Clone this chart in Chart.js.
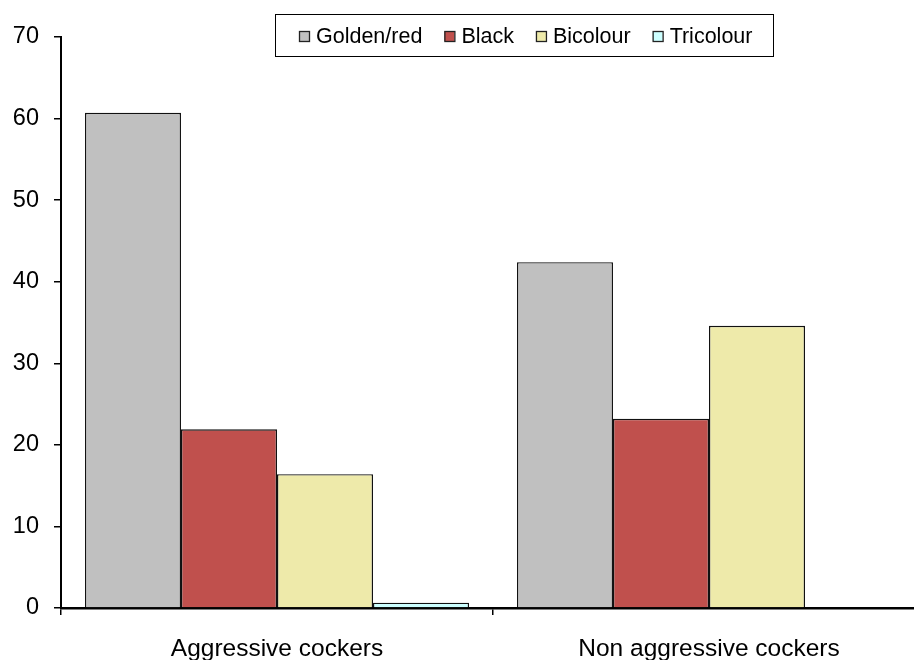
<!DOCTYPE html>
<html>
<head>
<meta charset="utf-8">
<script src="https://cdn.jsdelivr.net/npm/chart.js@4.4.1/dist/chart.umd.min.js"></script>
<style>
    html, body { margin: 0; padding: 0; overflow: hidden; background: #fff; }
    #wrap { width: 926px; height: 660px; }
</style>
</head>
<body>
<div id="wrap"><canvas id="chart" width="926" height="660"></canvas></div>
<script>
// Data
const categories = ['Aggressive cockers', 'Non aggressive cockers'];
const seriesNames = ['Golden/red', 'Black', 'Bicolour', 'Tricolour'];
const goldenRed = [60.7, 42.4];
const black = [21.9, 23.2];
const bicolour = [16.4, 34.6];
const tricolour = [0.65, 0];
const yTicks = [0, 10, 20, 30, 40, 50, 60, 70];

const colours = ['#C0C0C0', '#C0504D', '#EEEAAA', '#CCFFFF'];
const FONT = 'Arial, "Liberation Sans", sans-serif';

// Legend drawn inside a bordered box near the top (overlaps plot area like the original)
const boxLegend = {
    id: 'boxLegend',
    afterDraw(chart) {
        const ctx = chart.ctx;
        ctx.save();
        ctx.strokeStyle = '#000';
        ctx.lineWidth = 1;
        ctx.strokeRect(275.5, 14.5, 498, 42);
        ctx.font = '21.5px ' + FONT;
        ctx.textBaseline = 'middle';
        let x = 299;
        const y = 36;
        chart.data.datasets.forEach(ds => {
            ctx.fillStyle = ds.backgroundColor;
            ctx.fillRect(x, y - 5, 10, 10);
            ctx.strokeStyle = '#222';
            ctx.lineWidth = 1.3;
            ctx.strokeRect(x + 0.5, y - 4.5, 10, 10);
            ctx.fillStyle = '#000';
            ctx.fillText(ds.label, x + 17, y + 1);
            x += 17 + ctx.measureText(ds.label).width + 22;
        });
        ctx.restore();
    }
};

const seriesData = [goldenRed, black, bicolour, tricolour];

new Chart(document.getElementById('chart'), {
    type: 'bar',
    data: {
        labels: categories,
        datasets: seriesNames.map((name, i) => ({
            label: name,
            data: seriesData[i],
            backgroundColor: colours[i],
            borderColor: '#111',
            borderWidth: 1.4,
            borderSkipped: 'bottom',
            categoryPercentage: 0.889,
            barPercentage: 1.0
        }))
    },
    options: {
        responsive: false,
        animation: false,
        layout: { padding: { top: 37, right: 1, left: 0, bottom: 0 } },
        plugins: {
            legend: { display: false },
            tooltip: { enabled: false }
        },
        scales: {
            x: {
                grid: {
                    display: true,
                    drawOnChartArea: false,
                    drawTicks: true,
                    tickLength: 7,
                    color: '#000',
                    lineWidth: 1.5
                },
                border: { display: true, color: '#000', width: 2.5 },
                ticks: {
                    color: '#000',
                    font: { family: FONT, size: 24.5 },
                    padding: 20
                },
                afterFit(scale) { scale.height = 52; }
            },
            y: {
                min: 0,
                max: 70,
                afterBuildTicks(scale) {
                    scale.ticks = yTicks.map(v => ({ value: v }));
                },
                grid: {
                    display: true,
                    drawOnChartArea: false,
                    drawTicks: true,
                    tickLength: 7,
                    color: '#000',
                    lineWidth: 1.5
                },
                border: { display: true, color: '#000', width: 2 },
                ticks: {
                    color: '#000',
                    font: { family: FONT, size: 23.5 },
                    padding: 15
                },
                afterFit(scale) { scale.width = 61; }
            }
        }
    },
    plugins: [boxLegend]
});
</script>
</body>
</html>
